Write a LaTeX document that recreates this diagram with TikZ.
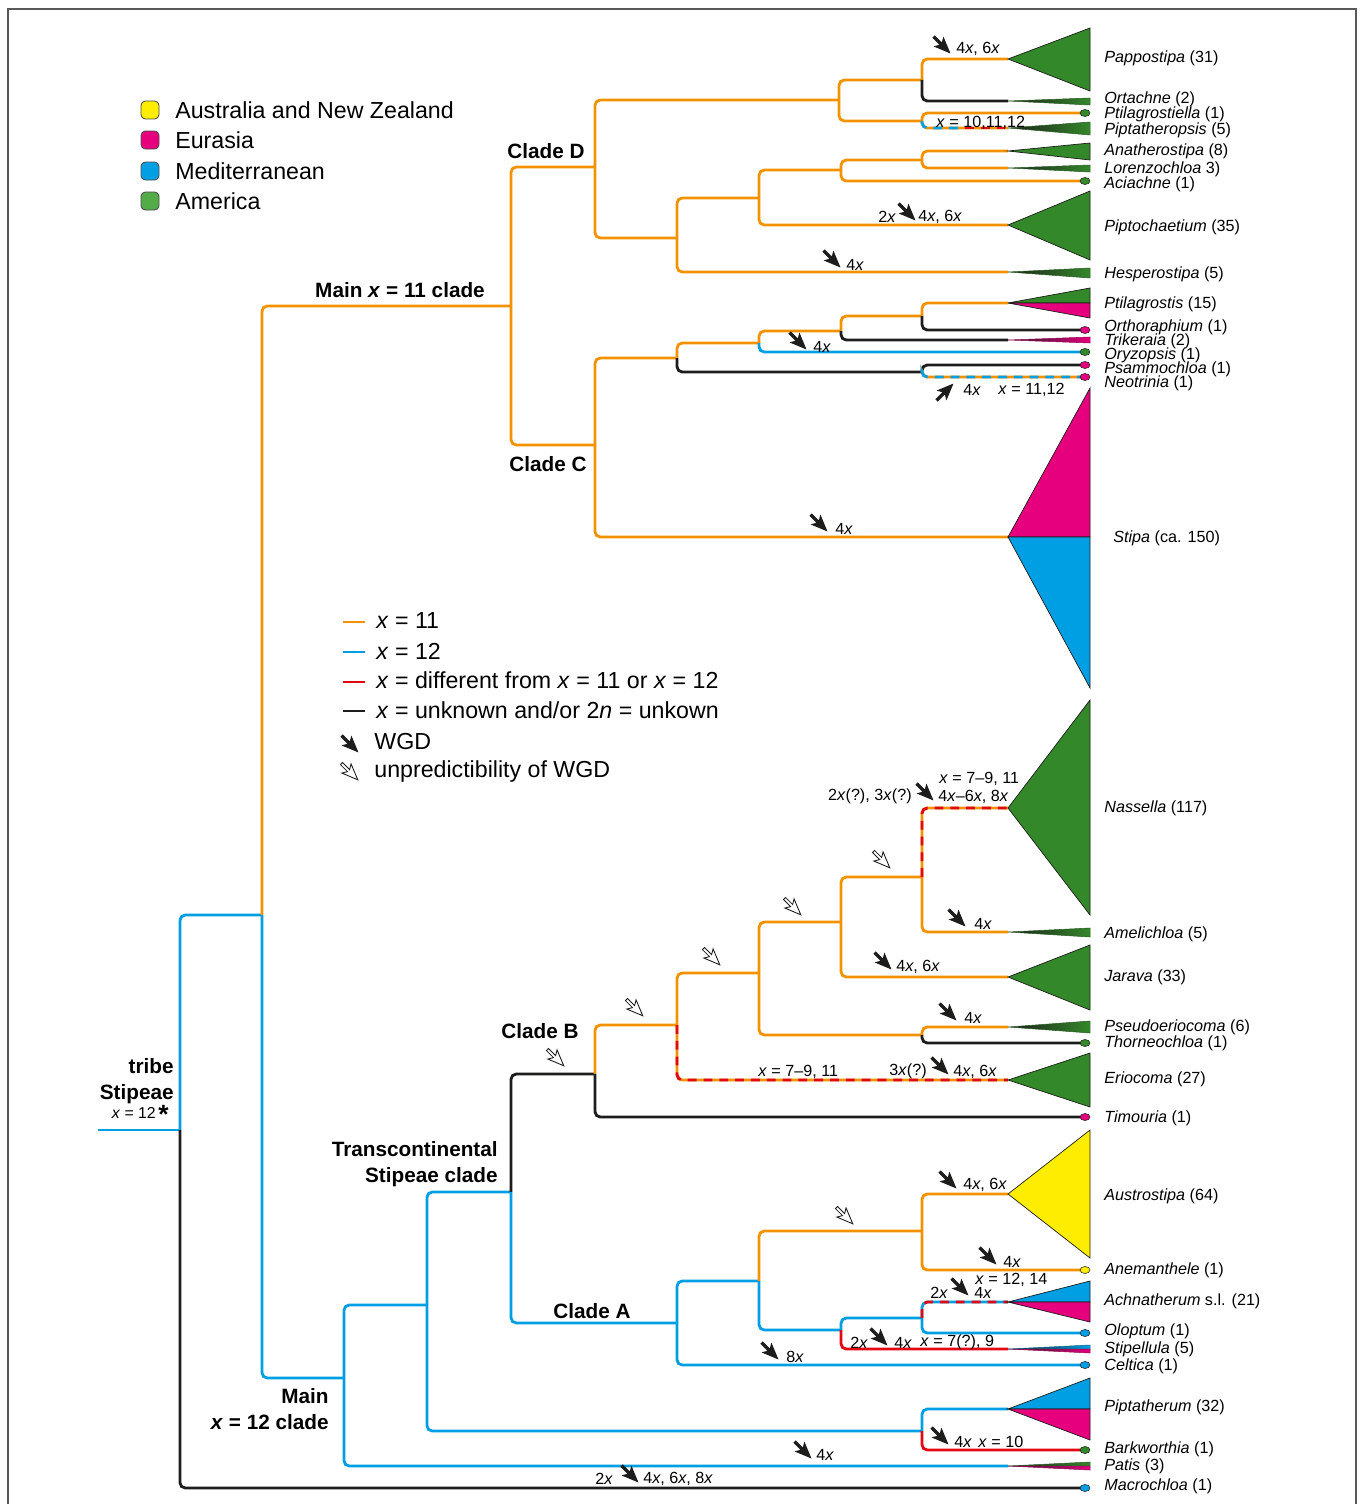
\documentclass[tikz,border=0pt]{standalone}
\usepackage{fontspec}
\setmainfont{Liberation Sans}
\usepackage{xcolor}
\usepackage{tikz}

\definecolor{orng}{RGB}{243,146,0}
\definecolor{blu}{RGB}{0,159,227}
\definecolor{rd}{RGB}{227,6,19}
\definecolor{blk}{RGB}{29,29,27}
\definecolor{mag}{RGB}{230,0,126}
\definecolor{grn}{RGB}{51,136,42}
\definecolor{ylw}{RGB}{255,237,0}
\definecolor{lgrn}{RGB}{84,172,72}

\newcommand{\vx}{\textit{x}}
% tip shapes: apex at x=1008, base at x=1090
\newcommand{\tipfan}[4]{\filldraw[fill=#4, draw=blk, line width=0.4pt] (1008,#1) -- (1090,#2) -- (1090,#3) -- cycle;}
\newcommand{\tipsplit}[5]{%
  \filldraw[fill=#4, draw=blk, line width=0.4pt] (1008,#1) -- (1090,#2) -- (1090,#1) -- cycle;
  \filldraw[fill=#5, draw=blk, line width=0.4pt] (1008,#1) -- (1090,#1) -- (1090,#3) -- cycle;}
\newcommand{\tipthin}[4]{%
  \shade[left color=blk, middle color=#4, right color=#4] (1008,#1) -- (1090,#2) -- (1090,#3) -- cycle;
  \draw[#4!60!blk, line width=0.3pt] (1008,#1) -- (1090,#2) -- (1090,#3) -- cycle;}
\newcommand{\tipdot}[2]{\filldraw[fill=#2, draw=blk, line width=0.3pt] (1085,#1) ellipse [x radius=5, y radius=3.5];}

\tikzset{
  branch/.style={line width=1.6pt, rounded corners=3pt},
  xo/.style={branch, draw=orng},
  xb/.style={branch, draw=blu},
  xr/.style={branch, draw=rd},
  xk/.style={branch, draw=blk},
  dsh/.style={branch, dash pattern=on 5pt off 4pt},
  tip/.style={anchor=west, inner sep=0pt, yshift=-1pt, font=\fontsize{9.2}{11}\selectfont},
  ann/.style={anchor=west, inner sep=0pt, yshift=-1pt, font=\fontsize{9.2}{11}\selectfont},
  cladelbl/.style={inner sep=0pt, align=right, font=\fontsize{11.8}{14.7}\selectfont\bfseries},
  leg/.style={anchor=west, inner sep=0pt, font=\fontsize{13.2}{15}\selectfont},
  wgd/.pic={\fill[blk] (12,0) -- (-5,7) -- (-2,1.7) -- (-12,1.7) -- (-12,-1.7) -- (-2,-1.7) -- (-5,-7) -- cycle;},
  unp/.pic={\draw[blk, fill=white, line width=0.5pt, line join=miter] (11,0) -- (-5,6.5) -- (-2,1.5) -- (-12,1.5) -- (-12,-1.5) -- (-2,-1.5) -- (-5,-6.5) -- cycle;}
}

\begin{document}
\begin{tikzpicture}[x=0.02cm, y=-0.02cm]
  \useasboundingbox (0,0) rectangle (1360,1504);
  \draw[gray!70!black, line width=0.8pt] (8,9) rectangle (1356,1530);

  % branch points and tips
  \foreach \n/\x/\y in {stem/98/1130, n0/180/1130, n1/262/915, mx11/511/306,
      cD/595/167, d1/839/100, d2/922/80, tPappo/1008/59, tOrta/1008/101,
      d3/922/121, tPtst/1085/113, tPiptp/1008/128, d4/677/238, d5/759/198,
      d6/841/170, d7/922/160, tAnath/1008/151, tLoren/1008/168, tAciac/1085/181,
      tPipto/1008/225, tHesp/1008/272, cC/595/445, c1/677/358, c2/759/343,
      c3/841/331, c4/922/316, tPtilag/1008/303, tOrtho/1085/330, tTrik/1008/340,
      tOryz/1085/352, c5/922/372, tPsam/1085/365, tNeot/1085/377, tStipa/1008/537,
      mx12/344/1378, p1/427/1305, tc/511/1192, cB/595/1074, b1/677/1025,
      b2/759/973, b3/841/922, b4/922/877, tNass/1008/808, tAmel/1008/932,
      tJara/1008/977, b5/922/1035, tPseu/1008/1027, tThor/1085/1043,
      tErio/1008/1080, tTimo/1085/1117, cA/677/1323, a1/759/1281, a2/922/1231,
      tAust/1008/1194, tAnem/1085/1270, a3/841/1330, a4/922/1318,
      tAchn/1008/1302, tOlop/1085/1333, tStpl/1008/1349, tCelt/1085/1365,
      a5/922/1431, tPiptm/1008/1409, tBark/1085/1450, tPatis/1008/1466,
      tMacro/1085/1488}
    {\coordinate (\n) at (\x,\y);}

  % branches
  \draw[xb] (stem) -- (n0);
  \foreach \p/\c/\s in {n0/n1/xb, n1/mx11/xo, mx11/cD/xo, cD/d1/xo, d1/d2/xo,
      d2/tPappo/xo, d2/tOrta/xk, d1/d3/xo, d3/tPtst/xo, cD/d4/xo, d4/d5/xo,
      d5/d6/xo, d6/d7/xo, d7/tAnath/xo, d7/tLoren/xo, d6/tAciac/xo,
      d5/tPipto/xo, d4/tHesp/xo, mx11/cC/xo, cC/c1/xo, c1/c2/xo, c2/c3/xo,
      c3/c4/xo, c4/tPtilag/xo, c4/tOrtho/xk, c3/tTrik/xk, c2/tOryz/xb,
      c1/c5/xk, c5/tPsam/xk, cC/tStipa/xo, n1/mx12/xb, mx12/p1/xb, p1/tc/xb,
      tc/cB/xk, cB/b1/xo, b1/b2/xo, b2/b3/xo, b3/b4/xo, b4/tAmel/xo,
      b3/tJara/xo, b2/b5/xo, b5/tPseu/xo, b5/tThor/xk, cB/tTimo/xk,
      tc/cA/xb, cA/a1/xb, a1/a2/xo, a2/tAust/xo, a2/tAnem/xo, a1/a3/xb,
      a3/a4/xb, a4/tOlop/xb, a3/tStpl/xr, cA/tCelt/xb, p1/a5/xb,
      a5/tPiptm/xb, a5/tBark/xr, mx12/tPatis/xb, n0/tMacro/xk}
    {\draw[\s] (\p) |- (\c);}

  % two-coloured branches
  \draw[xo] (d3) |- (tPiptp);
  \draw[dsh, blu] (d3) |- (965,128);
  \draw[dsh, rd] (965,128) -- (tPiptp);
  \draw[xo] (c5) |- (tNeot);
  \draw[dsh, blu] (c5) |- (tNeot);
  \draw[xo] (b4) |- (tNass);
  \draw[dsh, rd] (b4) |- (tNass);
  \draw[xo] (b1) |- (tErio);
  \draw[dsh, rd] (b1) |- (tErio);
  \draw[xb] (a4) |- (tAchn);
  \draw[dsh, rd] (a4) |- (tAchn);

  % clade tips
  \tipfan{59}{28}{91}{grn}
  \tipthin{101}{98}{105}{grn}
  \tipthin{128}{122}{135}{grn}
  \tipfan{151}{143}{160}{grn}
  \tipthin{168}{165}{172}{grn}
  \tipfan{225}{191}{260}{grn}
  \tipthin{272}{268}{278}{grn}
  \tipsplit{303}{288}{318}{grn}{mag}
  \tipthin{340}{337}{343}{mag}
  \tipsplit{537}{388}{688}{mag}{blu}
  \tipfan{808}{700}{915}{grn}
  \tipthin{932}{928}{937}{grn}
  \tipfan{977}{945}{1010}{grn}
  \tipthin{1027}{1021}{1033}{grn}
  \tipfan{1080}{1053}{1107}{grn}
  \tipfan{1194}{1130}{1258}{ylw}
  \tipsplit{1302}{1281}{1322}{blu}{mag}
  \tipthin{1349}{1345}{1349}{blu}
  \tipthin{1349}{1349}{1353}{mag}
  \tipsplit{1409}{1378}{1440}{blu}{mag}
  \tipthin{1466}{1462}{1466}{grn}
  \tipthin{1466}{1466}{1470}{mag}
  \foreach \y/\c in {113/grn, 181/grn, 330/mag, 352/grn, 365/mag, 377/mag,
      1043/grn, 1117/mag, 1270/ylw, 1333/blu, 1365/blu, 1450/grn, 1488/blu}
    {\tipdot{\y}{\c}}

  % tip labels
  \foreach \y/\g/\k in {57/Pappostipa/(31), 98/Ortachne/(2),
      113/Ptilagrostiella/(1), 129/Piptatheropsis/(5), 150/Anatherostipa/(8),
      168/Lorenzochloa/3), 183/Aciachne/(1), 226/Piptochaetium/(35),
      273/Hesperostipa/(5), 303/Ptilagrostis/(15), 326/Orthoraphium/(1),
      340/Trikeraia/(2), 354/Oryzopsis/(1), 368/Psammochloa/(1),
      382/Neotrinia/(1), 807/Nassella/(117), 933/Amelichloa/(5),
      976/Jarava/(33), 1026/Pseudoeriocoma/(6), 1042/Thorneochloa/(1),
      1078/Eriocoma/(27), 1117/Timouria/(1), 1195/Austrostipa/(64),
      1269/Anemanthele/(1), 1300/Achnatherum/s.l. (21), 1330/Oloptum/(1),
      1348/Stipellula/(5), 1365/Celtica/(1), 1406/Piptatherum/(32),
      1448/Barkworthia/(1), 1465/Patis/(3), 1485/Macrochloa/(1)}
    {\node[tip] (l\y) at (1104,\y) {\textit{\g} \k};}
  \node[tip] (lStipa) at (1113,537) {\textit{Stipa} (ca. 150)};

  % clade labels
  \node[cladelbl] (mainA) at (400,290) {Main \vx{} = 11 clade};
  \node[cladelbl] (cladeD) at (546,151) {Clade D};
  \node[cladelbl] (cladeC) at (548,464) {Clade C};
  \node[cladelbl] (cladeB) at (540,1031) {Clade B};
  \node[cladelbl] (cladeA) at (592,1311) {Clade A};
  \node[cladelbl, anchor=east] (trans) at (498,1164) {Transcontinental\\Stipeae clade};
  \node[cladelbl, anchor=east] (mainB) at (329,1409) {Main\\\vx{} = 12 clade};
  \node[cladelbl, anchor=east] (tribe) at (174,1081) {tribe\\Stipeae};
  \node[anchor=east, inner sep=0pt] (tribex) at (169,1114)
    {\fontsize{9}{10}\selectfont\vx{} = 12\,\raisebox{-0.6ex}{\fontsize{15}{15}\selectfont\bfseries *}};

  % ploidy notes
  \pic[rotate=-45] (w1) at (942,45) {wgd};
  \node[ann] (t1) at (956,47) {4\vx, 6\vx};
  \node[ann] (t2) at (878,215) {2\vx};
  \pic[rotate=-45] (w2) at (907,212) {wgd};
  \node[ann] (t3) at (918,215) {4\vx, 6\vx};
  \pic[rotate=-45] (w3) at (832,259) {wgd};
  \node[ann] (t4) at (846,263) {4\vx};
  \node[ann] (t5) at (936,121) {\vx{} = 10,11,12};
  \pic[rotate=-45] (w4) at (798,341) {wgd};
  \node[ann] (t6) at (813,345) {4\vx};
  \pic[rotate=45] (w5) at (945,392) {wgd};
  \node[ann] (t7) at (963,388) {4\vx};
  \node[ann] (t8) at (998,388) {\vx{} = 11,12};
  \pic[rotate=-45] (w6) at (819,523) {wgd};
  \node[ann] (t9) at (835,527) {4\vx};
  \node[ann] (t10) at (939,777) {\vx{} = 7--9, 11};
  \node[ann, anchor=east] (t11) at (912,795) {2\vx(?), 3\vx(?)};
  \pic[rotate=-45] (w7) at (925,792) {wgd};
  \node[ann] (t12) at (938,795) {4\vx--6\vx, 8\vx};
  \pic[rotate=-45] (w8) at (957,918) {wgd};
  \node[ann] (t13) at (974,922) {4\vx};
  \pic[rotate=-45] (w9) at (883,961) {wgd};
  \node[ann] (t14) at (896,965) {4\vx, 6\vx};
  \pic[rotate=-45] (w10) at (948,1012) {wgd};
  \node[ann] (t15) at (964,1016) {4\vx};
  \node[ann] (t16) at (758,1070) {\vx{} = 7--9, 11};
  \node[ann] (t17) at (889,1070) {3\vx(?)};
  \pic[rotate=-45] (w11) at (940,1066) {wgd};
  \node[ann] (t18) at (953,1070) {4\vx, 6\vx};
  \pic[rotate=-45] (w12) at (948,1180) {wgd};
  \node[ann] (t19) at (963,1183) {4\vx, 6\vx};
  \pic[rotate=-45] (w13) at (988,1256) {wgd};
  \node[ann] (t20) at (1003,1260) {4\vx};
  \node[ann] (t21) at (975,1278) {\vx{} = 12, 14};
  \node[ann] (t22) at (930,1291) {2\vx};
  \pic[rotate=-45] (w14) at (960,1287) {wgd};
  \node[ann] (t23) at (974,1291) {4\vx};
  \node[ann] (t24) at (850,1341) {2\vx};
  \pic[rotate=-45] (w15) at (879,1337) {wgd};
  \node[ann] (t25) at (894,1341) {4\vx};
  \node[ann] (t26) at (920,1341) {\vx{} = 7(?), 9};
  \pic[rotate=-45] (w16) at (770,1351) {wgd};
  \node[ann] (t27) at (786,1355) {8\vx};
  \pic[rotate=-45] (w17) at (940,1436) {wgd};
  \node[ann] (t28) at (954,1440) {4\vx};
  \node[ann] (t29) at (978,1440) {\vx{} = 10};
  \pic[rotate=-45] (w18) at (803,1450) {wgd};
  \node[ann] (t30) at (816,1453) {4\vx};
  \node[ann] (t31) at (595,1477) {2\vx};
  \pic[rotate=-45] (w19) at (630,1474) {wgd};
  \node[ann] (t32) at (643,1477) {4\vx, 6\vx, 8\vx};
  \foreach \x/\y in {556/1058, 635/1008, 712/957, 793/907, 882/860, 845/1216}
    {\pic[rotate=-45] at (\x,\y) {unp};}

  % legends
  \foreach \y/\c/\t in {110/ylw/Australia and New Zealand, 140/mag/Eurasia,
      171/blu/Mediterranean, 201/lgrn/America}
    {\filldraw[fill=\c, draw=blk!80, line width=0.5pt, rounded corners=2.5pt]
       (141,{\y-9}) rectangle (159,{\y+9});
     \node[leg] (r\y) at (175,\y) {\t};}
  \foreach \y/\c in {622/orng, 652/blu, 682/rd, 711/blk}
    {\draw[\c, line width=1.2pt] (343,\y) -- (365,\y);}
  \node[leg] (k1) at (376,621) {\vx{} = 11};
  \node[leg] (k2) at (376,651) {\vx{} = 12};
  \node[leg] (k3) at (376,680) {\vx{} = different from \vx{} = 11 or \vx{} = 12};
  \node[leg] (k4) at (376,710) {\vx{} = unknown and/or 2\textit{n} = unkown};
  \pic[rotate=-45] (kw) at (350,744) {wgd};
  \node[leg] (k5) at (374,742) {WGD};
  \pic[rotate=-45] (ku) at (350,772) {unp};
  \node[leg] (k6) at (374,771) {unpredictibility of WGD};
\end{tikzpicture}
\end{document}
